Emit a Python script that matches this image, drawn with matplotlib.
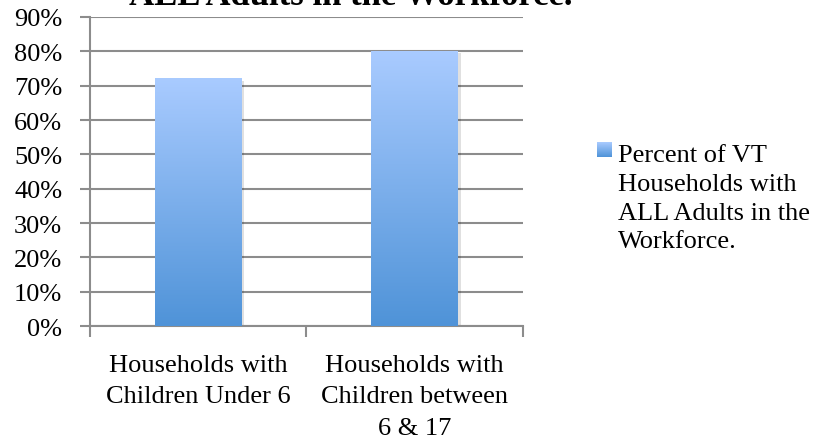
import numpy as np
import matplotlib
matplotlib.use("Agg")
import matplotlib.pyplot as plt
from matplotlib.patches import Rectangle

categories = ["Households with\nChildren Under 6", "Households with\nChildren between\n6 & 17"]
values = [72, 80]
series_name = "Percent of VT\nHouseholds with\nALL Adults in the\nWorkforce."
yticks = list(range(0, 91, 10))

plt.rcParams['font.family'] = ['Liberation Serif', 'DejaVu Serif']

fig = plt.figure(figsize=(8.25, 4.39), dpi=100)
ax = fig.add_axes([0.109, 0.255, 0.525, 0.704])

grid_c = "#8c8c8c"
x = np.arange(len(categories))
bars = ax.bar(x, values, width=0.4, color="none", zorder=3)

# vertical gradient inside every bar
grad = np.linspace(0, 1, 256).reshape(-1, 1)
cmap = matplotlib.colors.LinearSegmentedColormap.from_list("g", ["#4f93d8", "#a9cbff"])
for b in bars:
    x0, y0, w, h = b.get_x(), b.get_y(), b.get_width(), b.get_height()
    # faint shadow
    ax.add_patch(Rectangle((x0 + 0.012, y0), w, h - 0.6, color="#000000", alpha=0.12, zorder=2, lw=0))
    ax.imshow(grad, extent=[x0, x0 + w, y0, y0 + h], origin="lower", cmap=cmap,
              aspect="auto", zorder=3)

ax.set_xlim(-0.5, 1.5)
ax.set_ylim(0, 90)
ax.set_yticks(yticks)
ax.set_yticklabels([f"{t}%" for t in yticks], fontsize=19)
ax.yaxis.grid(True, color=grid_c, lw=1.5, zorder=1)
ax.set_axisbelow(True)

ax.set_xticks([-0.5, 0.5, 1.5])
ax.set_xticklabels([])
ax.set_xticks(x, minor=True)
ax.set_xticklabels(categories, minor=True, fontsize=19, linespacing=1.55)
ax.tick_params(axis="x", which="minor", length=0, pad=20)
ax.tick_params(axis="x", which="major", length=8, width=1.5, color=grid_c, direction="out")
ax.tick_params(axis="y", length=7, width=1.5, color=grid_c, direction="out", pad=13)

for s in ["top", "right"]:
    ax.spines[s].set_visible(False)
for s in ["left", "bottom"]:
    ax.spines[s].set_color(grid_c)
    ax.spines[s].set_linewidth(1.5)

# legend: gradient square + label, top aligned like the reference
lax = fig.add_axes([597 / 825, 1 - 158 / 439, 15 / 825, 15 / 439])
lax.imshow(grad, origin="lower", cmap=cmap, aspect="auto", extent=[0, 1, 0, 1])
lax.set_axis_off()
fig.text(618 / 825, 1 - 145 / 439, series_name, ha="left", va="top",
         fontsize=19, linespacing=1.4)

fig.text(351 / 825, 1 - 5 / 439, "ALL Adults in the Workforce.", ha="center", va="baseline",
         fontsize=25, fontweight="bold")

fig.savefig("out.png", dpi=100)
